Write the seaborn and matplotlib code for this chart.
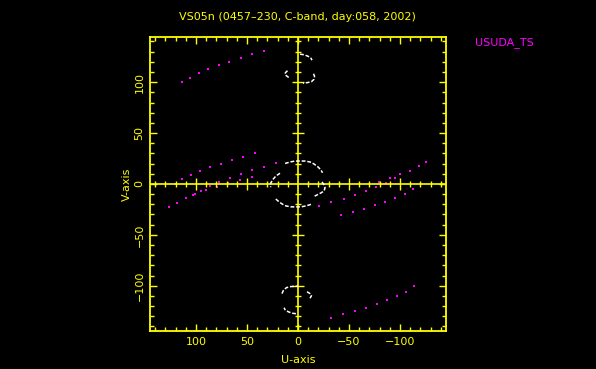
import numpy as np
import pandas as pd
import matplotlib
matplotlib.use("Agg")
import matplotlib.pyplot as plt
import seaborn as sns
from matplotlib.ticker import MultipleLocator

# ---- data (U, V) ----
track_tl_u = [113.7, 105.9, 97.0, 87.9, 77.7, 67.3, 56.2, 44.8, 33.0]
track_tl_v = [100.0, 104.6, 108.8, 112.7, 116.7, 120.3, 124.2, 127.5, 130.7]
track_br_u = [-32.7, -44.4, -55.9, -67.0, -77.5, -87.6, -97.0, -105.6, -113.4]
track_br_v = [-131.7, -128.0, -124.8, -121.6, -117.6, -113.7, -109.8, -105.9, -100.7]
track_lu_u = [120.3, 113.4, 104.9, 95.8, 86.0, 75.5, 65.0, 53.9, 42.2]
track_lu_v = [0.0, 4.6, 8.5, 12.7, 16.3, 19.9, 23.8, 26.8, 30.1]
track_rl_u = [-41.8, -53.6, -64.7, -75.5, -85.6, -95.4, -104.6, -113.0, -120.3]
track_rl_v = [-30.7, -27.5, -24.2, -20.9, -17.6, -13.7, -9.5, -5.2, 0.0]
track_ll_u = [126.2, 118.6, 109.8, 102.6, 100.6, 94.8, 90.2, 86.3, 79.4, 77.1,
              68.9, 66.4, 57.2, 55.9, 45.4, 44.8, 33.0, 21.3]
track_ll_v = [-22.5, -18.6, -14.0, -11.1, -10.1, -6.5, -6.2, -2.3, -3.2, 2.0,
              0.7, 5.9, 4.2, 9.8, 6.9, 13.4, 16.7, 20.3]
track_ru_u = [-20.9, -32.7, -44.8, -55.6, -66.3, -76.5, -79.4, -86.0, -90.2,
              -94.8, -100.3, -109.5, -118.3, -125.8]
track_ru_v = [-21.2, -18.0, -14.4, -10.5, -6.9, -2.6, 2.0, 1.3, 5.6, 5.6, 9.5,
              13.0, 17.3, 21.6]

# ground-ground baselines (white arcs)
arc_c1_u = [12.7, 7.8, 2.9, -2.0, -6.9, -11.8, -15.7, -19.6, -22.5, -24.0]
arc_c1_v = [20.1, 21.6, 22.5, 22.5, 22.5, 21.6, 19.6, 16.7, 13.7, 11.0]
arc_c2_u = [-23.5, -25.5, -26.5, -25.5, -22.5, -18.6, -15.7]
arc_c2_v = [2.0, -1.0, -3.9, -6.9, -8.8, -10.8, -12.3]
arc_c3_u = [-12.7, -7.8, -2.9, 2.0, 6.9, 11.8, 15.7, 19.6, 23.0]
arc_c3_v = [-20.1, -21.6, -22.5, -22.5, -22.5, -21.6, -19.6, -16.7, -13.7]
arc_c4_u = [17.6, 21.5, 24.5, 26.8, 26.8]
arc_c4_v = [10.5, 8.0, 4.5, 0.7, -3.2]
arc_n1_u = [-2.0, -5.9, -9.8, -12.7, -13.7]
arc_n1_v = [127.5, 127.0, 125.5, 123.5, 121.6]
arc_n2_u = [10.3, 12.3, 12.7, 10.8, 8.8]
arc_n2_v = [111.3, 109.3, 107.4, 105.9, 104.4]
arc_n3_u = [-15.2, -16.2, -15.7, -13.2, -8.8, -4.9]
arc_n3_v = [108.3, 105.9, 102.9, 100.5, 99.5, 99.0]
arc_s1_u = [2.0, 5.9, 9.8, 12.7, 13.7]
arc_s1_v = [-127.5, -127.0, -125.5, -123.5, -121.6]
arc_s2_u = [-8.8, -11.8, -13.2, -11.8]
arc_s2_v = [-105.9, -107.8, -109.8, -112.3]
arc_s3_u = [15.7, 14.2, 11.3, 7.4, 2.9, 0.0]
arc_s3_v = [-107.8, -104.4, -101.9, -100.9, -100.5, -100.5]

title = "VS05n (0457\u2013230, C-band, day:058, 2002)"
station = "USUDA_TS"

# ---- build tables ----
tracks = [(track_tl_u, track_tl_v), (track_br_u, track_br_v), (track_lu_u, track_lu_v),
          (track_rl_u, track_rl_v), (track_ll_u, track_ll_v), (track_ru_u, track_ru_v)]
space = pd.DataFrame({"u": np.concatenate([t[0] for t in tracks]),
                      "v": np.concatenate([t[1] for t in tracks])})
arcs = [(arc_c1_u, arc_c1_v), (arc_c2_u, arc_c2_v), (arc_c3_u, arc_c3_v), (arc_c4_u, arc_c4_v),
        (arc_n1_u, arc_n1_v), (arc_n2_u, arc_n2_v), (arc_n3_u, arc_n3_v),
        (arc_s1_u, arc_s1_v), (arc_s2_u, arc_s2_v), (arc_s3_u, arc_s3_v)]
ground = pd.concat([pd.DataFrame({"u": a[0], "v": a[1], "arc": i})
                    for i, a in enumerate(arcs)], ignore_index=True)

YEL = "#ffff00"
MAG = "#ff00ff"
plt.rcParams["font.family"] = ["DejaVu Sans"]

fig = plt.figure(figsize=(5.96, 3.69), dpi=100, facecolor="black")
ax = fig.add_axes([0.2517, 0.103, 0.4966, 0.797])
ax.set_facecolor("black")

sns.lineplot(data=ground, x="u", y="v", units="arc", estimator=None, sort=False,
             color="white", lw=1.1, ax=ax, legend=False)
for ln in ax.get_lines():
    ln.set_linestyle((0, (2.5, 1.2)))
sns.scatterplot(data=space, x="u", y="v", color=MAG, marker="s", s=3, linewidth=0,
                ax=ax, legend=False)

ax.set_xlim(145, -145)
ax.set_ylim(-144.5, 144.5)

# central cross with ticks
ax.axhline(0, color=YEL, lw=1.2, zorder=1)
ax.axvline(0, color=YEL, lw=1.2, zorder=1)
minor_pos = [p for p in np.arange(-140, 141, 10) if p != 0]
for p in minor_pos:
    big = (p % 50 == 0)
    L = 4.5 if big else 2.5
    ax.plot([p], [0], marker="|", ms=2 * L, mew=1.0, color=YEL, zorder=1)
    ax.plot([0], [p], marker="_", ms=2 * L, mew=1.0, color=YEL, zorder=1)

for sp in ax.spines.values():
    sp.set_color(YEL)
    sp.set_linewidth(1.3)
ax.xaxis.set_major_locator(MultipleLocator(50))
ax.xaxis.set_minor_locator(MultipleLocator(10))
ax.yaxis.set_major_locator(MultipleLocator(50))
ax.yaxis.set_minor_locator(MultipleLocator(10))
ax.tick_params(which="both", direction="in", top=True, right=True, colors=YEL,
               labelcolor=YEL, labelsize=8)
ax.tick_params(which="major", length=5, width=1.0, pad=4)
ax.tick_params(which="minor", length=3, width=1.0)
for lab in ax.get_yticklabels():
    lab.set_rotation(90)
    lab.set_va("center")
ax.set_xlabel("U-axis", color=YEL, fontsize=8, labelpad=6)
ax.set_ylabel("V-axis", color=YEL, fontsize=8, labelpad=2)

fig.text(0.499, 0.955, title, color=YEL, fontsize=8, ha="center", va="center")
fig.text(0.797, 0.885, station, color=MAG, fontsize=8, ha="left", va="center")

fig.savefig("out.png", dpi=100, facecolor="black")
